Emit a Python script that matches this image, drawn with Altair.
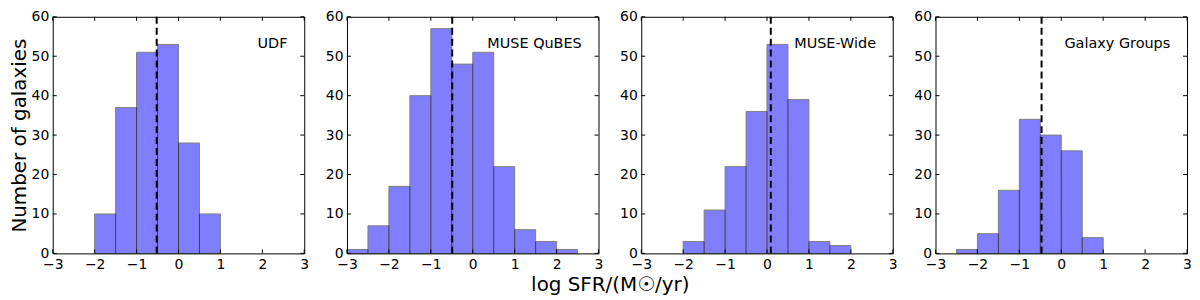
import altair as alt
import pandas as pd

# ---- data ----
panel_names = ["UDF", "MUSE QuBES", "MUSE-Wide", "Galaxy Groups"]

udf_lo = [-2.0, -1.5, -1.0, -0.5, 0.0, 0.5]
udf_n = [10, 37, 51, 53, 28, 10]

qubes_lo = [-3.0, -2.5, -2.0, -1.5, -1.0, -0.5, 0.0, 0.5, 1.0, 1.5, 2.0]
qubes_n = [1, 7, 17, 40, 57, 48, 51, 22, 6, 3, 1]

wide_lo = [-2.0, -1.5, -1.0, -0.5, 0.0, 0.5, 1.0, 1.5]
wide_n = [3, 11, 22, 36, 53, 39, 3, 2]

groups_lo = [-2.5, -2.0, -1.5, -1.0, -0.5, 0.0, 0.5]
groups_n = [1, 5, 16, 34, 30, 26, 4]

median_lines = [-0.52, -0.49, 0.09, -0.47]
bin_width = 0.5

x_ticks = [-3, -2, -1, 0, 1, 2, 3]
y_ticks = [0, 10, 20, 30, 40, 50, 60]
label_x = 2.6
label_y = 53

# ---- layout ----
W, H = 253, 238
TICK = 4
FONT = "DejaVu Sans"
LABEL_FS = 14


def panel(name, lo, n, med, first):
    xs = alt.Scale(domain=[-3, 3], nice=False, zero=False)
    ys = alt.Scale(domain=[0, 60], nice=False)
    xaxis = alt.Axis(values=x_ticks, title="", ticks=False, grid=False,
                     domain=False, labelFontSize=LABEL_FS, labelPadding=4,
                     labelFlush=False)
    yargs = dict(values=y_ticks, ticks=False, grid=False, domain=False,
                 labelFontSize=LABEL_FS, labelPadding=4, labelFlush=False)
    if first:
        yargs.update(title="Number of galaxies", titleFontSize=20,
                     titleFontWeight="normal", titlePadding=2)
    else:
        yargs.update(title="")
    yaxis = alt.Axis(**yargs)

    def X(f):
        return alt.X(f, scale=xs, axis=xaxis)

    def Y(f):
        return alt.Y(f, scale=ys, axis=yaxis)

    bars = pd.DataFrame({"lo": lo, "n": n})
    hist = alt.Chart(bars).transform_calculate(
        hi=f"datum.lo + {bin_width}", base="0"
    ).mark_bar(color="blue", opacity=0.5, stroke="black", strokeWidth=1).encode(
        x=X("lo:Q"),
        x2="hi:Q",
        y=Y("n:Q"),
        y2="base:Q",
    )

    medline = alt.Chart(pd.DataFrame({"lo": [med]})).mark_rule(
        color="black", strokeDash=[7, 4], strokeWidth=2
    ).encode(x=X("lo:Q"))

    label = alt.Chart(pd.DataFrame({"lo": [label_x], "n": [label_y], "t": [name]})).mark_text(
        align="right", baseline="middle", fontSize=14.5, font=FONT, color="black"
    ).encode(x=X("lo:Q"), y=Y("n:Q"), text="t:N")

    xt = pd.DataFrame({"lo": x_ticks})
    yt = pd.DataFrame({"n": y_ticks})
    tb = alt.Chart(xt).mark_rule(color="black", strokeWidth=1).encode(
        x=X("lo:Q"), y=alt.value(H), y2=alt.value(H - TICK))
    tt = alt.Chart(xt).mark_rule(color="black", strokeWidth=1).encode(
        x=X("lo:Q"), y=alt.value(0), y2=alt.value(TICK))
    tl = alt.Chart(yt).mark_rule(color="black", strokeWidth=1).encode(
        y=Y("n:Q"), x=alt.value(0), x2=alt.value(TICK))
    tr = alt.Chart(yt).mark_rule(color="black", strokeWidth=1).encode(
        y=Y("n:Q"), x=alt.value(W), x2=alt.value(W - TICK))

    return alt.layer(hist, medline, label, tb, tt, tl, tr).properties(width=W, height=H)


panels = [
    panel(panel_names[0], udf_lo, udf_n, median_lines[0], True),
    panel(panel_names[1], qubes_lo, qubes_n, median_lines[1], False),
    panel(panel_names[2], wide_lo, wide_n, median_lines[2], False),
    panel(panel_names[3], groups_lo, groups_n, median_lines[3], False),
]

chart = alt.hconcat(*panels, spacing=15).properties(
    title=alt.TitleParams(
        "log SFR/(M☉/yr)", orient="bottom", anchor="middle",
        fontSize=20, fontWeight="normal", font=FONT, color="black",
        offset=3, dx=10
    ),
    padding={"left": 0, "top": 0, "right": 0, "bottom": 0},
).configure_view(stroke="black", strokeWidth=1).configure_axis(
    labelFont=FONT, titleFont=FONT, labelColor="black", titleColor="black"
)

chart.save("out.html", embed_options={"renderer": "svg", "actions": False})
